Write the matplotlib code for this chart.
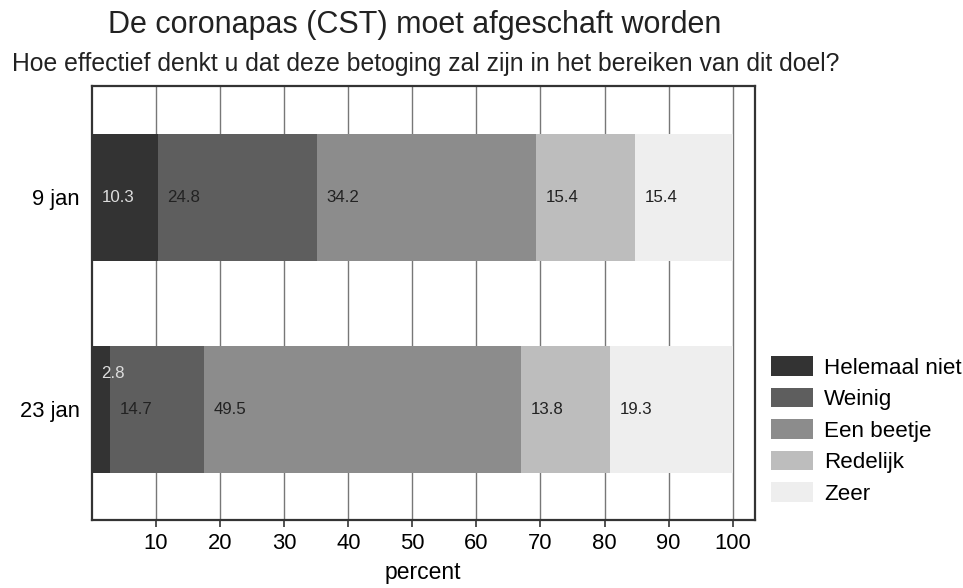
import numpy as np
import matplotlib
matplotlib.use("Agg")
import matplotlib.pyplot as plt
from matplotlib.patches import Patch

plt.rcParams["font.family"] = ["Liberation Sans", "DejaVu Sans"]

dates = ["23 jan", "9 jan"]
answers = ["Helemaal niet", "Weinig", "Een beetje", "Redelijk", "Zeer"]
jan9 = [10.3, 24.8, 34.2, 15.4, 15.4]
jan23 = [2.8, 14.7, 49.5, 13.8, 19.3]
colours = ["#333333", "#5e5e5e", "#8c8c8c", "#bdbdbd", "#eeeeee"]

values = np.array([jan23, jan9])   # rows follow `dates` (bottom to top)

fig = plt.figure(figsize=(9.63, 5.88), dpi=100)
ax = fig.add_axes([0.0955, 0.115, 0.688, 0.739])

ypos = np.arange(len(dates))
left = np.zeros(len(dates))
for j, (name, c) in enumerate(zip(answers, colours)):
    ax.barh(ypos, values[:, j], left=left, height=0.6, color=c, zorder=2)
    for i in range(len(dates)):
        v = values[i, j]
        dy = 0.0
        if v < 5:
            dy = 0.17   # small segment: lift label to keep it clear of the next one
        tc = "#dddddd" if j == 0 else "#222222"
        ax.text(left[i] + 1.5, ypos[i] + dy, f"{v:.1f}", ha="left", va="center",
                fontsize=12.2, color=tc, zorder=3)
    left += values[:, j]

ax.set_xlim(0, 103.4)
ax.set_ylim(-0.525, 1.525)
ax.set_xticks(np.arange(10, 101, 10))
ax.set_yticks(ypos)
ax.set_yticklabels(dates)
ax.tick_params(axis="x", labelsize=15.8, length=5, width=1.2, color="#333333", pad=4)
ax.tick_params(axis="y", labelsize=15.8, length=0, pad=9)
ax.grid(axis="x", color="#777777", lw=1.0, zorder=0)
for s in ax.spines.values():
    s.set_linewidth(1.6)
    s.set_color("#333333")
ax.set_xlabel("percent", fontsize=16.5, labelpad=5)

fig.text(0.431, 0.957, "De coronapas (CST) moet afgeschaft worden", ha="center", va="center",
         fontsize=22, color="#222222")
fig.text(0.012, 0.891, "Hoe effectief denkt u dat deze betoging zal zijn in het bereiken van dit doel?",
         ha="left", va="center", fontsize=17.8, color="#222222")

handles = [Patch(facecolor=c, edgecolor="none") for c in colours]
fig.legend(handles, answers, loc="upper left", bbox_to_anchor=(0.801, 0.394), frameon=False,
           fontsize=16.1, handlelength=1.85, handleheight=0.95, handletextpad=0.5, labelspacing=0.41,
           borderaxespad=0, borderpad=0)

fig.savefig("out.png", dpi=100)
